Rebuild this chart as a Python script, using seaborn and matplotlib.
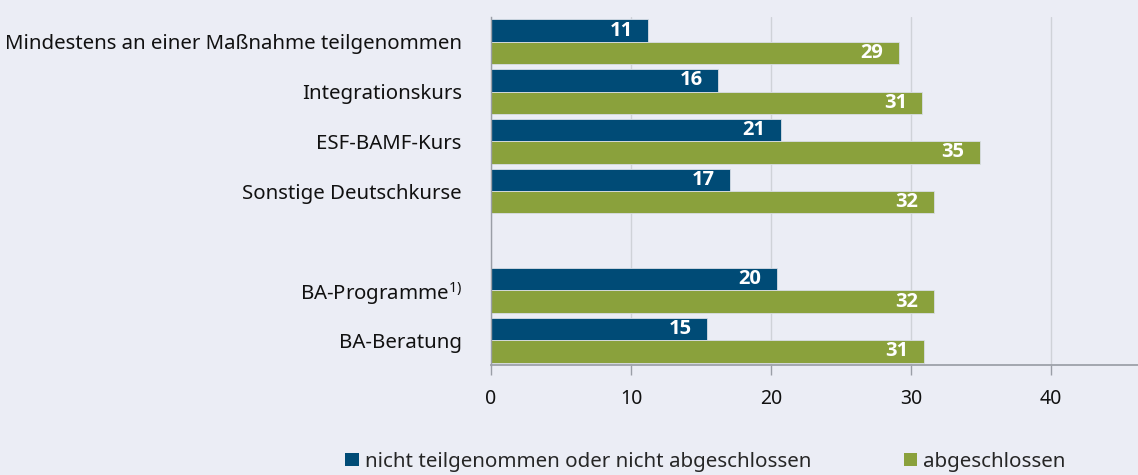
import matplotlib
matplotlib.use("Agg")
import matplotlib.pyplot as plt
import seaborn as sns
import pandas as pd
from matplotlib.patches import Patch

categories = ["Mindestens an einer Maßnahme teilgenommen", "Integrationskurs",
              "ESF-BAMF-Kurs", "Sonstige Deutschkurse", " ",
              "BA-Programme", "BA-Beratung"]
tick_labels = ["Mindestens an einer Maßnahme teilgenommen", "Integrationskurs",
               "ESF-BAMF-Kurs", "Sonstige Deutschkurse", "",
               "BA-Programme$^{\\mathrm{1)}}$", "BA-Beratung"]
data_categories = ["Mindestens an einer Maßnahme teilgenommen", "Integrationskurs",
                   "ESF-BAMF-Kurs", "Sonstige Deutschkurse",
                   "BA-Programme", "BA-Beratung"]
series_names = ["nicht teilgenommen oder nicht abgeschlossen", "abgeschlossen"]
not_completed = [11.2, 16.2, 20.7, 17.1, 20.4, 15.4]
completed = [29.1, 30.8, 34.9, 31.6, 31.6, 30.9]
x_ticks = [0, 10, 20, 30, 40]

colors = ["#004b76", "#8aa13c"]
bg = "#ebedf5"

df = pd.DataFrame({
    "cat": data_categories * 2,
    "val": not_completed + completed,
    "series": [series_names[0]] * len(data_categories) + [series_names[1]] * len(data_categories),
})

sns.set_theme(style="white")
font = "Noto Sans"
plt.rcParams["font.family"] = [font, "DejaVu Sans"]
plt.rcParams["mathtext.fontset"] = "custom"
plt.rcParams["mathtext.rm"] = font

fig = plt.figure(figsize=(11.38, 4.75), dpi=100, facecolor=bg)
ax = fig.add_axes([491 / 1138, 110 / 475, 1 - 491 / 1138 + 0.01, 348 / 475])
ax.set_facecolor(bg)

sns.barplot(data=df, y="cat", x="val", hue="series", order=categories,
            hue_order=series_names, palette=colors, orient="h", width=0.9,
            ax=ax, legend=False, saturation=1, edgecolor="#d8dde6", linewidth=0.6)

ax.set_xlim(0, 46.2 + 0.01 * 1138 / 14)
ax.set_xticks(x_ticks)
ax.set_xticklabels([str(t) for t in x_ticks], fontsize=14, color="#111111")
ax.set_yticks(range(len(categories)))
ax.set_yticklabels(tick_labels, fontsize=14.7, color="#111111")
ax.set_xlabel("")
ax.set_ylabel("")
ax.grid(axis="x", color="#cfd2d8", linewidth=1)
ax.set_axisbelow(True)
for s in ["top", "right"]:
    ax.spines[s].set_visible(False)
ax.spines["left"].set_color("#9a9ea6")
ax.spines["bottom"].set_color("#9a9ea6")
ax.spines["left"].set_linewidth(1)
ax.tick_params(axis="x", which="both", bottom=True, length=7, width=1, color="#9a9ea6", pad=10)
ax.tick_params(axis="y", length=0, pad=21)

for cont in ax.containers:
    for bar in cont:
        w = bar.get_width()
        if w is None or not (w == w) or w <= 0:
            continue
        ax.annotate(f"{round(w)}", xy=(w, bar.get_y() + bar.get_height() / 2),
                    xytext=(-11, 0), textcoords="offset points", ha="right", va="center",
                    color="white", fontsize=14.5, fontweight="bold",
                    family=["Open Sans", "DejaVu Sans"])

handles = [Patch(facecolor=c, edgecolor="none") for c in colors]
fig.legend(handles, series_names, loc="center", bbox_to_anchor=(0.62, 0.028), ncol=2,
           frameon=False, fontsize=14.8, handlelength=0.65, handleheight=0.65,
           handletextpad=0.3, columnspacing=4.5)

fig.savefig("out.png", dpi=100, facecolor=bg)
